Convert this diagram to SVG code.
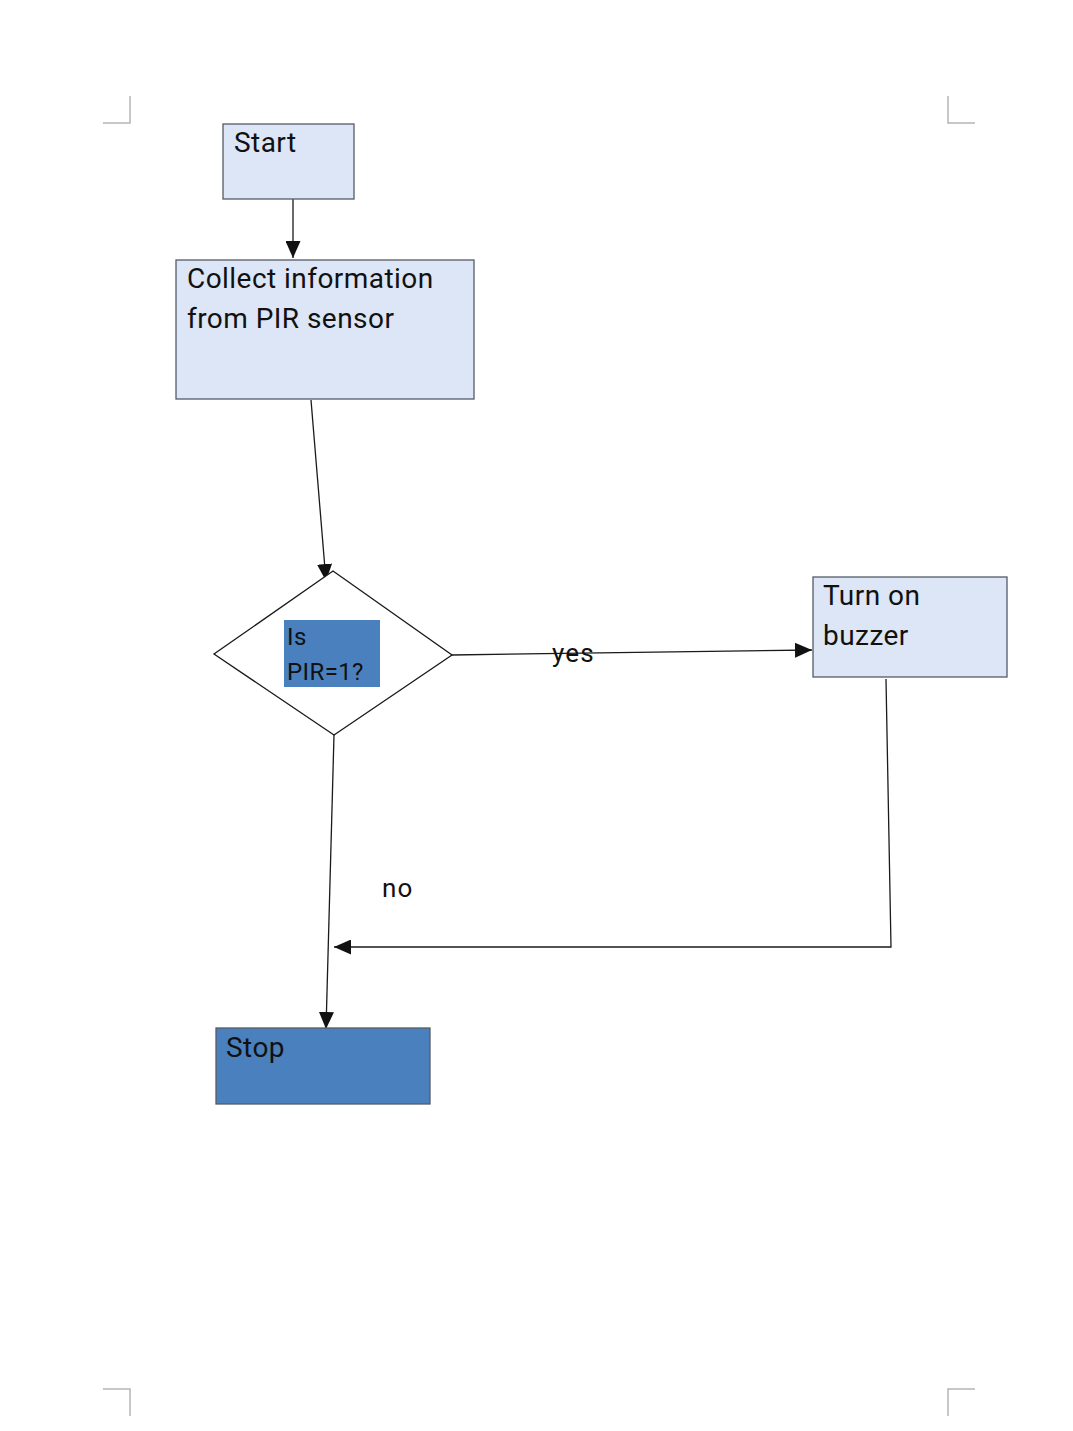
<svg xmlns="http://www.w3.org/2000/svg" width="1073" height="1431" viewBox="0 0 1073 1431">
  <style>
    .box { fill: #dde6f6; stroke: #555b66; stroke-width: 1.3; }
    .dark { fill: #4a80bd; stroke: #555b66; stroke-width: 1.3; }
    .dia { fill: #ffffff; stroke: #1a1a1a; stroke-width: 1.3; }
    .lbl { font-family: Roboto, "Liberation Sans", sans-serif; font-size: 28px; letter-spacing: 0.45px; fill: #111111; }
    .small { font-size: 24px; letter-spacing: 0.4px; }
    .tag { font-size: 26px; letter-spacing: 1.2px; }
    .edge { stroke: #1a1a1a; stroke-width: 1.3; fill: none; }
    .crop { stroke: #b5b5b5; stroke-width: 1.5; fill: none; }
  </style>
  <defs>
    <marker id="arrowBig" viewBox="0 0 17 15" refX="17" refY="7.5" markerWidth="17" markerHeight="15" markerUnits="userSpaceOnUse" orient="auto">
      <path d="M0,0 L17,7.5 L0,15 z" fill="#111111"/>
    </marker>
  </defs>
  <rect width="1073" height="1431" fill="#ffffff"/>

  <!-- page corner marks -->
  <g id="page-marks">
    <path class="crop" d="M103,123 H130 V96"/>
    <path class="crop" d="M975,123 H948 V96"/>
    <path class="crop" d="M103,1389 H130 V1416"/>
    <path class="crop" d="M975,1389 H948 V1416"/>
  </g>

  <g id="connectors">
    <line class="edge" x1="293" y1="199" x2="293" y2="258" marker-end="url(#arrowBig)"/>
    <line class="edge" x1="311" y1="400" x2="326" y2="581" marker-end="url(#arrowBig)"/>
    <line class="edge" x1="452" y1="655" x2="812" y2="650" marker-end="url(#arrowBig)"/>
    <polyline class="edge" points="886,679 891,947 334,947" marker-end="url(#arrowBig)"/>
    <line class="edge" x1="334" y1="735" x2="326" y2="1029" marker-end="url(#arrowBig)"/>
    <text class="lbl tag" x="552" y="662">yes</text>
    <text class="lbl tag" x="382" y="897">no</text>
  </g>

  <g id="start">
    <rect class="box" x="223" y="124" width="131" height="75"/>
    <text class="lbl" x="234" y="152">Start</text>
  </g>

  <g id="collect">
    <rect class="box" x="176" y="260" width="298" height="139"/>
    <text class="lbl" x="187" y="288">Collect information</text>
    <text class="lbl" x="187" y="328">from PIR sensor</text>
  </g>

  <g id="decision">
    <polygon class="dia" points="333,571 452,655 334,735 214,654"/>
    <rect x="284" y="620" width="96" height="67" fill="#4a80bd"/>
    <text class="lbl small" x="287" y="645">Is</text>
    <text class="lbl small" x="287" y="680">PIR=1?</text>
  </g>

  <g id="buzzer">
    <rect class="box" x="813" y="577" width="194" height="100"/>
    <text class="lbl" x="823" y="605">Turn on</text>
    <text class="lbl" x="823" y="645">buzzer</text>
  </g>

  <g id="stop">
    <rect class="dark" x="216" y="1028" width="214" height="76"/>
    <text class="lbl" x="226" y="1057">Stop</text>
  </g>
</svg>
